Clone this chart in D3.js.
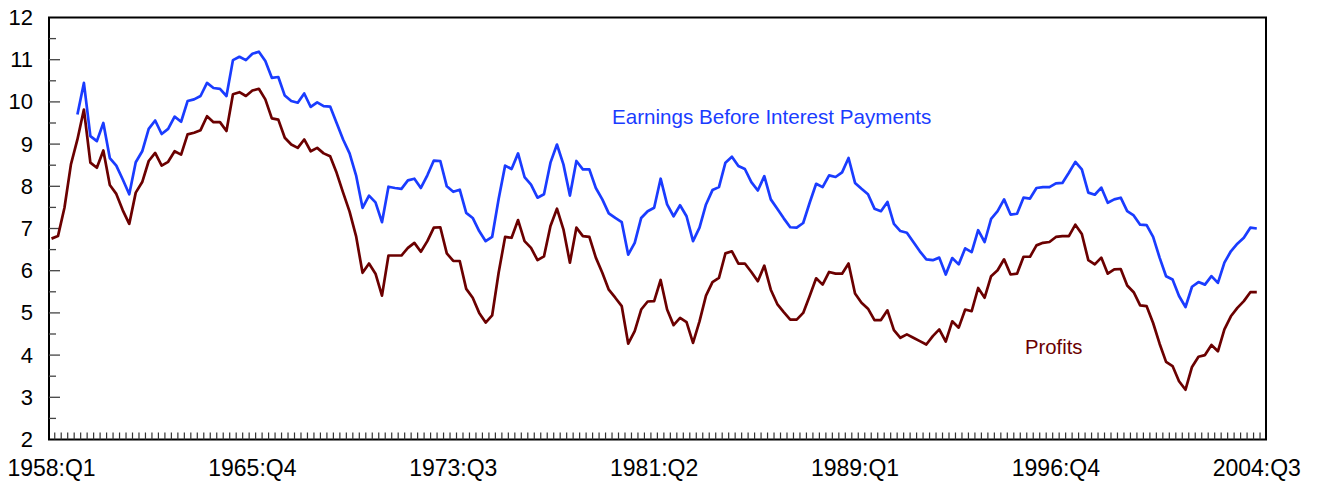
<!DOCTYPE html>
<html>
<head>
<meta charset="utf-8">
<script src="https://cdn.jsdelivr.net/npm/d3@7"></script>
<style>
  html, body { margin: 0; padding: 0; background: #ffffff; }
  svg { display: block; font-family: "Liberation Sans", Arial, sans-serif; }
</style>
</head>
<body>
<svg id="chart" width="1321" height="482"></svg>
<script>
// ---- data ----
const startYear = 1958, startQuarter = 1, nQuarters = 187;
const quarters = [];
for (let k = 0; k < nQuarters; k++) {
  const q = (startQuarter - 1 + k);
  quarters.push((startYear + Math.floor(q / 4)) + ":Q" + (q % 4 + 1));
}

const profits = [
  6.76, 6.82, 7.49, 8.52, 9.11, 9.82, 8.56, 8.44, 8.85, 8.03,
  7.82, 7.43, 7.11, 7.85, 8.10, 8.60, 8.79, 8.49, 8.58, 8.83,
  8.75, 9.23, 9.27, 9.33, 9.66, 9.52, 9.52, 9.31, 10.18, 10.23,
  10.14, 10.27, 10.31, 10.06, 9.61, 9.58, 9.15, 8.99, 8.91, 9.11,
  8.83, 8.91, 8.78, 8.71, 8.32, 7.85, 7.40, 6.82, 5.95, 6.17,
  5.93, 5.41, 6.36, 6.36, 6.36, 6.54, 6.66, 6.45, 6.70, 7.02,
  7.03, 6.41, 6.23, 6.23, 5.57, 5.36, 5.00, 4.77, 4.94, 5.95,
  6.80, 6.78, 7.20, 6.70, 6.54, 6.25, 6.34, 7.06, 7.47, 6.98,
  6.19, 7.02, 6.82, 6.80, 6.31, 5.95, 5.55, 5.36, 5.16, 4.27,
  4.57, 5.08, 5.27, 5.28, 5.78, 5.08, 4.71, 4.88, 4.78, 4.29,
  4.80, 5.41, 5.73, 5.83, 6.41, 6.46, 6.17, 6.17, 5.97, 5.75,
  6.12, 5.55, 5.21, 5.02, 4.84, 4.84, 5.00, 5.40, 5.82, 5.67,
  5.97, 5.93, 5.93, 6.17, 5.46, 5.24, 5.10, 4.83, 4.83, 5.06,
  4.59, 4.41, 4.49, 4.41, 4.33, 4.25, 4.45, 4.61, 4.32, 4.80,
  4.65, 5.08, 5.04, 5.59, 5.36, 5.87, 6.01, 6.27, 5.91, 5.93,
  6.33, 6.33, 6.60, 6.66, 6.68, 6.80, 6.82, 6.82, 7.09, 6.87,
  6.25, 6.15, 6.31, 5.93, 6.03, 6.04, 5.65, 5.49, 5.18, 5.16,
  4.76, 4.27, 3.84, 3.74, 3.38, 3.18, 3.72, 3.96, 4.00, 4.24,
  4.09, 4.61, 4.92, 5.12, 5.28, 5.49, 5.49
];

const earnings = [
  null, null, null, null, 9.70, 10.45, 9.19, 9.07, 9.50, 8.67,
  8.49, 8.16, 7.81, 8.57, 8.83, 9.36, 9.56, 9.24, 9.36, 9.65,
  9.53, 10.02, 10.06, 10.14, 10.45, 10.33, 10.31, 10.14, 10.99, 11.07,
  10.99, 11.14, 11.19, 10.97, 10.57, 10.59, 10.15, 10.02, 9.98, 10.20,
  9.88, 9.99, 9.90, 9.89, 9.50, 9.11, 8.78, 8.26, 7.49, 7.78,
  7.62, 7.15, 7.99, 7.96, 7.94, 8.14, 8.18, 7.96, 8.26, 8.61,
  8.60, 8.00, 7.87, 7.92, 7.37, 7.25, 6.94, 6.70, 6.80, 7.70,
  8.49, 8.41, 8.78, 8.22, 8.04, 7.73, 7.81, 8.56, 8.99, 8.52,
  7.78, 8.60, 8.40, 8.40, 7.96, 7.69, 7.36, 7.25, 7.15, 6.38,
  6.66, 7.25, 7.41, 7.49, 8.18, 7.57, 7.29, 7.55, 7.29, 6.70,
  7.02, 7.57, 7.91, 7.98, 8.56, 8.70, 8.48, 8.41, 8.10, 7.90,
  8.24, 7.69, 7.47, 7.24, 7.03, 7.02, 7.13, 7.61, 8.06, 7.98,
  8.26, 8.22, 8.33, 8.67, 8.08, 7.94, 7.81, 7.47, 7.41, 7.63,
  7.11, 6.94, 6.90, 6.68, 6.46, 6.27, 6.25, 6.31, 5.91, 6.30,
  6.15, 6.53, 6.44, 6.96, 6.68, 7.23, 7.41, 7.69, 7.33, 7.35,
  7.73, 7.71, 7.96, 7.98, 7.98, 8.07, 8.08, 8.32, 8.58, 8.40,
  7.85, 7.80, 7.97, 7.61, 7.69, 7.73, 7.41, 7.31, 7.09, 7.08,
  6.80, 6.31, 5.87, 5.79, 5.40, 5.14, 5.62, 5.73, 5.67, 5.87,
  5.71, 6.19, 6.46, 6.64, 6.78, 7.02, 7.00
];

const xTickLabels = ["1958:Q1", "1965:Q4", "1973:Q3", "1981:Q2", "1989:Q1", "1996:Q4", "2004:Q3"];
const yTicks = [2, 3, 4, 5, 6, 7, 8, 9, 10, 11, 12];
const seriesLabels = ["Earnings Before Interest Payments", "Profits"];

// ---- layout ----
const svg = d3.select("#chart");
const pLeft = 49, pRight = 1266, pTop = 17.5, pBottom = 439.5;

const xi = d3.scaleLinear().domain([0, nQuarters - 1]).range([51.5, 1256.8]);
const x = q => xi(quarters.indexOf(q));
const y = d3.scaleLinear().domain([2, 12]).range([pBottom, pTop]);

// frame
svg.append("rect")
  .attr("x", pLeft).attr("y", pTop)
  .attr("width", pRight - pLeft).attr("height", pBottom - pTop)
  .attr("fill", "none").attr("stroke", "#000").attr("stroke-width", 2);

// y ticks (inside, major at integers, minor at halves)
const yMinor = d3.range(2.5, 12, 1);
svg.append("g").selectAll("line").data(yTicks.slice(1, -1)).join("line")
  .attr("x1", pLeft).attr("x2", pLeft + 11)
  .attr("y1", d => y(d)).attr("y2", d => y(d))
  .attr("stroke", "#444").attr("stroke-width", 1.3);
svg.append("g").selectAll("line").data(yMinor).join("line")
  .attr("x1", pLeft).attr("x2", pLeft + 7)
  .attr("y1", d => y(d)).attr("y2", d => y(d))
  .attr("stroke", "#444").attr("stroke-width", 1.3);

svg.append("g").selectAll("text").data(yTicks).join("text")
  .attr("x", 33).attr("y", d => y(d))
  .attr("text-anchor", "end").attr("dominant-baseline", "central")
  .attr("font-size", 22).attr("fill", "#000")
  .text(d => d);

// x ticks: one per quarter, between data points, pointing up
const xTickPos = d3.range(0, nQuarters).map(i => i + 0.5);
svg.append("g").selectAll("line").data(xTickPos).join("line")
  .attr("x1", d => xi(d)).attr("x2", d => xi(d))
  .attr("y1", pBottom).attr("y2", pBottom - 7)
  .attr("stroke", "#333").attr("stroke-width", 1.2);

svg.append("g").selectAll("text").data(xTickLabels).join("text")
  .attr("x", d => x(d)).attr("y", 476)
  .attr("text-anchor", "middle")
  .attr("font-size", 23).attr("fill", "#000")
  .text(d => d);

// lines
const line = d3.line()
  .defined(d => d.v !== null)
  .x(d => x(d.q)).y(d => y(d.v));

svg.append("path")
  .datum(quarters.map((q, i) => ({q, v: profits[i]})))
  .attr("d", line).attr("fill", "none")
  .attr("stroke", "#6b0000").attr("stroke-width", 2.7)
  .attr("stroke-linejoin", "round");

svg.append("path")
  .datum(quarters.map((q, i) => ({q, v: earnings[i]})))
  .attr("d", line).attr("fill", "none")
  .attr("stroke", "#1a3cff").attr("stroke-width", 2.7)
  .attr("stroke-linejoin", "round");

// annotations
svg.append("text").attr("x", 612).attr("y", 124)
  .attr("font-size", 20.6).attr("fill", "#1a3cff")
  .text(seriesLabels[0]);
svg.append("text").attr("x", 1025).attr("y", 354)
  .attr("font-size", 20.3).attr("fill", "#6b0000")
  .text(seriesLabels[1]);
</script>
</body>
</html>
